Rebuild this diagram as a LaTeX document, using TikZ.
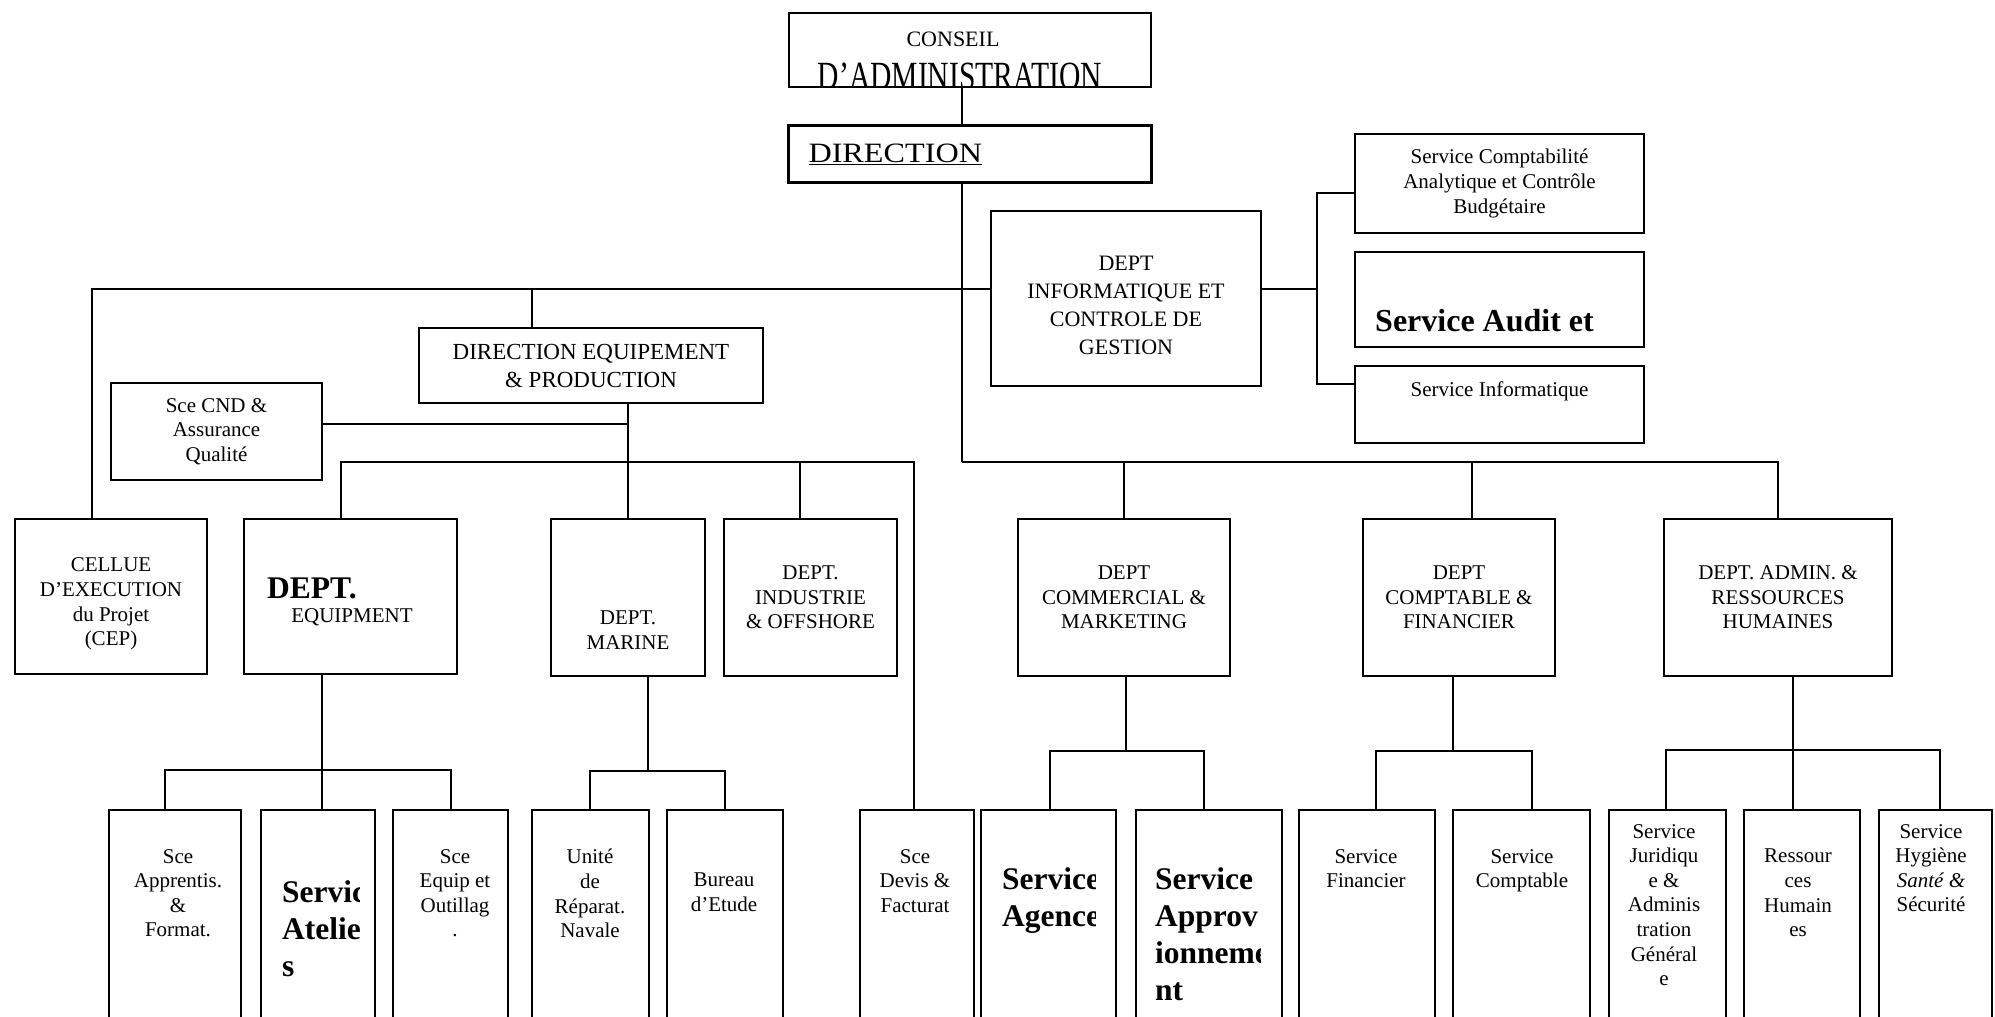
\documentclass[tikz,border=0pt]{standalone}
\usepackage{fontspec}
\setmainfont{Liberation Serif}
\usepackage{graphicx}

\begin{document}
\begin{tikzpicture}[x=1pt,y=-1pt,
  box/.style={draw,line width=2.2pt,inner sep=0pt},
  svc/.style={box,anchor=north,minimum height=300pt},
  txt/.style={font=\fontsize{21pt}{24.6pt}\selectfont,align=center,inner sep=0pt},
  hd/.style={font=\fontsize{22pt}{28pt}\selectfont,align=center,inner sep=0pt},
  bigb/.style={font=\fontsize{31.5pt}{37pt}\selectfont\bfseries,align=left,inner sep=0pt},
  link/.style={line width=2.2pt}]
  \useasboundingbox (0,0) rectangle (1995,1017);
  \clip (0,0) rectangle (1995,1017);
  \fill[white] (0,0) rectangle (1995,1017);

  % conseil + direction
  \node[box,minimum width=362pt,minimum height=74pt] (cons) at (970,50) {};
  \begin{scope}
    \clip ([yshift=-1.1pt]cons.north west) rectangle ([yshift=1.1pt]cons.south east);
    \node[hd] (cons-t) at (953,39) {CONSEIL};
    \node[font=\fontsize{40pt}{40pt}\selectfont,inner sep=0pt,anchor=base] (cons-t2) at (960,89)
      {\scalebox{0.74}[1]{D’ADMINISTRATION}};
  \end{scope}
  \node[box,minimum width=363pt,minimum height=57pt,text width=323pt,inner xsep=20pt,align=left,
    font=\fontsize{28pt}{30pt}\selectfont] (dir) at (970,154) {\scalebox{1.15}[1]{\underline{DIRECTION}}};

  % informatique et controle de gestion
  \node[box,minimum width=270pt,minimum height=175pt] (info) at (1126,298.5) {};
  \node[hd] (info-t) at (1126,305) {DEPT\\INFORMATIQUE ET\\CONTROLE DE\\GESTION};
  \node[box,txt,minimum width=289pt,minimum height=99pt] (cab) at (1499.5,183.5)
    {Service Comptabilité\\Analytique et Contrôle\\Budgétaire};
  \node[box,minimum width=289pt,minimum height=95pt] (audit) at (1499.5,299.5) {};
  \node[bigb,anchor=west,font=\fontsize{32pt}{37pt}\selectfont\bfseries] (audit-t) at (1375,321) {Service Audit et};
  \node[box,minimum width=289pt,minimum height=77pt] (isvc) at (1499.5,404.5) {};
  \node[txt] (isvc-t) at (1499.5,391) {Service Informatique};

  % left side
  \node[box,minimum width=192pt,minimum height=155pt] (cep) at (111,596.5) {};
  \node[txt] (cep-t) at (111,604) {CELLUE\\D'EXECUTION\\du Projet\\(CEP)};
  \node[box,txt,minimum width=344pt,minimum height=75pt,font=\fontsize{23pt}{28pt}\selectfont] (direq)
    at (591,365.5) {DIRECTION EQUIPEMENT\\\& PRODUCTION};
  \node[box,txt,minimum width=211pt,minimum height=97pt] (cnd) at (216.5,431.5) {Sce CND \&\\Assurance\\Qualité};
  \node[box,minimum width=213pt,minimum height=155pt] (equip) at (350.5,596.5) {};
  \node[bigb] (equip-t1) at (312,588) {DEPT.};
  \node[txt] (equip-t2) at (352,617) {EQUIPMENT};
  \node[box,minimum width=154pt,minimum height=157pt] (marine) at (628,597.5) {};
  \node[txt] (marine-t) at (628,630) {DEPT.\\MARINE};
  \node[box,txt,minimum width=173pt,minimum height=157pt] (indus) at (810.5,597.5) {DEPT.\\INDUSTRIE\\\& OFFSHORE};

  % right side
  \node[box,txt,minimum width=212pt,minimum height=157pt] (comm) at (1124,597.5) {DEPT\\COMMERCIAL \&\\MARKETING};
  \node[box,txt,minimum width=192pt,minimum height=157pt] (cptfin) at (1459,597.5) {DEPT\\COMPTABLE \&\\FINANCIER};
  \node[box,txt,minimum width=228pt,minimum height=157pt] (admin) at (1778,597.5) {DEPT. ADMIN. \&\\RESSOURCES\\HUMAINES};

  % services, bottom row
  \node[svc,minimum width=132pt] (appr) at (175,809) {};
  \node[svc,minimum width=114pt] (atel) at (318,809) {};
  \node[svc,minimum width=115pt] (outil) at (450.5,809) {};
  \node[svc,minimum width=117pt] (unite) at (590.5,809) {};
  \node[svc,minimum width=116pt] (bureau) at (725,809) {};
  \node[svc,minimum width=114pt] (devis) at (917,809) {};
  \node[svc,minimum width=135pt] (agence) at (1048.5,809) {};
  \node[svc,minimum width=146pt] (approv) at (1209,809) {};
  \node[svc,minimum width=136pt] (fin) at (1367,809) {};
  \node[svc,minimum width=137pt] (cpt) at (1521.5,809) {};
  \node[svc,minimum width=117pt] (jur) at (1667.5,809) {};
  \node[svc,minimum width=116pt] (rh) at (1802,809) {};
  \node[svc,minimum width=113pt] (hyg) at (1935.5,809) {};

  \node[txt,anchor=north] (appr-t) at (178,849) {Sce\\Apprentis.\\\&\\Format.};
  \node[txt,anchor=north] (outil-t) at (455,849) {Sce\\Equip et\\Outillag\\.};
  \node[txt,anchor=north] (unite-t) at (590,849) {Unité\\de\\Réparat.\\Navale};
  \node[txt,anchor=north] (bureau-t) at (724,873) {Bureau\\d'Etude};
  \node[txt,anchor=north] (devis-t) at (915,849) {Sce\\Devis \&\\Facturat};
  \node[txt,anchor=north] (fin-t) at (1366,849) {Service\\Financier};
  \node[txt,anchor=north] (cpt-t) at (1522,849) {Service\\Comptable};
  \node[txt,anchor=north] (jur-t) at (1664,824) {Service\\Juridiqu\\e \&\\Adminis\\tration\\Général\\e};
  \node[txt,anchor=north] (rh-t) at (1798,849) {Ressour\\ces\\Humain\\es};
  \node[txt,anchor=north] (hyg-t) at (1931,824) {Service\\Hygiène\\\textit{Santé \&}\\Sécurité};

  % bold texts cut by their frames
  \begin{scope}
    \clip (atel.north west) rectangle ([xshift=-17pt]atel.south east);
    \node[bigb,anchor=north west] (atel-t) at (282,880) {Service\\Atelier\\s};
  \end{scope}
  \begin{scope}
    \clip (agence.north west) rectangle ([xshift=-22pt]agence.south east);
    \node[bigb,anchor=north west] (agence-t) at (1002,867) {Service\\Agence};
  \end{scope}
  \begin{scope}
    \clip (approv.north west) rectangle ([xshift=-23pt]approv.south east);
    \node[bigb,anchor=north west] (approv-t) at (1155,867) {Service\\Approv\\ionneme\\nt};
  \end{scope}

  % connectors, top
  \coordinate (t1) at (962,289);
  \coordinate (t2) at (962,462);
  \coordinate (ib) at (1317,289);
  \draw[link] (cons.south -| 962,0) -- (dir.north -| 962,0);
  \draw[link] (dir.south -| t1) -- (t2);
  \draw[link] (cep.north -| 92,0) |- (t1);
  \draw[link] (direq.north -| 532,0) -- (t1 -| 532,0);
  \draw[link] (t1) -- (info.west |- t1);
  \draw[link] (info.east |- t1) -- (ib);
  \draw[link] (cab.west |- 0,193) -| (ib) |- (isvc.west |- 0,384);

  % connectors, equipement & production
  \coordinate (l1) at (341,462);
  \coordinate (l2) at (914,462);
  \draw[link] (direq.south -| marine.north) -- (marine.north);
  \draw[link] (cnd.east |- 0,424) -- (marine.north |- 0,424);
  \draw[link] (equip.north -| l1) -- (l1) -- (l2) -- (devis.north -| l2);
  \draw[link] (indus.north -| 800,0) -- (l1 -| 800,0);

  % connectors, right departments
  \draw[link] (t2) -| (admin.north);
  \draw[link] (comm.north) -- (comm.north |- t2);
  \draw[link] (cptfin.north -| 1472,0) -- (t2 -| 1472,0);

  % connectors, services
  \coordinate (eqb) at (322,770);
  \coordinate (mab) at (648,771);
  \coordinate (cob) at (1126,751);
  \coordinate (cfb) at (1453,751);
  \coordinate (adb) at (1793,750);
  \draw[link] (equip.south -| eqb) -- (atel.north -| eqb);
  \draw[link] (appr.north -| 165,0) |- (eqb) -| (outil.north -| 451,0);
  \draw[link] (marine.south -| mab) -- (mab);
  \draw[link] (unite.north -| 590,0) |- (mab) -| (bureau.north -| 725,0);
  \draw[link] (comm.south -| cob) -- (cob);
  \draw[link] (agence.north -| 1050,0) |- (cob) -| (approv.north -| 1204,0);
  \draw[link] (cptfin.south -| cfb) -- (cfb);
  \draw[link] (fin.north -| 1376,0) |- (cfb) -| (cpt.north -| 1532,0);
  \draw[link] (admin.south -| adb) -- (rh.north -| adb);
  \draw[link] (jur.north -| 1666,0) |- (adb) -| (hyg.north -| 1940,0);
\end{tikzpicture}
\end{document}
